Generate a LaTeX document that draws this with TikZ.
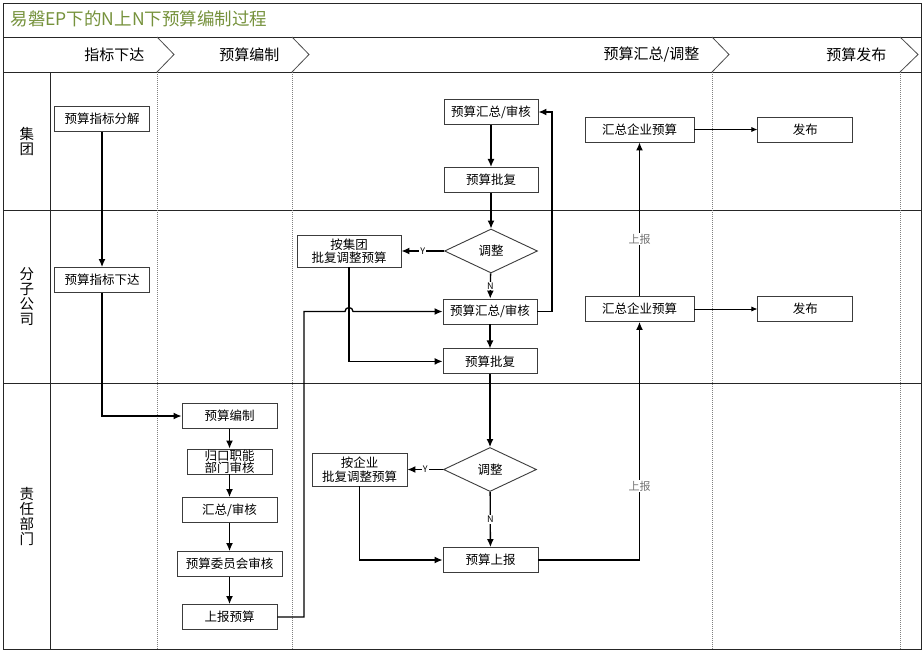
\documentclass[tikz,border=0pt]{standalone}
\usepackage{fontspec}
\setmainfont{Noto Sans CJK SC}
\usetikzlibrary{positioning, shapes.geometric, arrows.meta}

\definecolor{titlegreen}{RGB}{118,146,60}
\definecolor{boxline}{RGB}{60,60,60}

\tikzset{
  box/.style={draw=boxline, line width=0.9pt, minimum width=95pt, minimum height=25pt,
    inner sep=1pt, align=center, font=\fontsize{12.5}{13.5}\selectfont},
  choice/.style={diamond, draw=boxline, line width=0.9pt, minimum width=93pt,
    minimum height=44pt, inner sep=0pt, font=\fontsize{12.5}{13.5}\selectfont},
  flow/.style={->, line width=1.3pt},
  thinflow/.style={-{Latex[length=6pt,width=5pt]}, line width=0.8pt},
  lane/.style={line width=0.8pt, draw=black!85},
  phase/.style={draw=black!50, line width=0.8pt, dash pattern=on 1pt off 1pt},
  tag/.style={fill=white, inner sep=1pt, font=\fontsize{9}{10}\selectfont},
  report/.style={fill=white, inner sep=1pt, text=black!55, font=\fontsize{11}{12}\selectfont},
  lanename/.style={align=center, font=\fontsize{14.5}{15}\selectfont},
  phasename/.style={anchor=east, font=\fontsize{15}{16}\selectfont}
}

\begin{document}
\begin{tikzpicture}[x=1pt, y=-1pt, node distance=20pt, >={Latex[length=8pt,width=7pt]}]
  \useasboundingbox[fill=white] (0,0) rectangle (924,653);

  % frame and lanes
  \draw[lane] (3,3) rectangle (921,649);
  \draw[lane] (3,37) -- (921,37);
  \draw[lane] (3,72) -- (921,72);
  \draw[lane] (3,210) -- (921,210);
  \draw[lane] (3,383) -- (921,383);
  \draw[lane] (50,72) -- (50,649);

  % phases
  \draw[phase] (157,72) -- (157,649);
  \draw[phase] (292,72) -- (292,649);
  \draw[phase] (712,72) -- (712,649);
  \draw[phase] (900,72) -- (900,649);
  \draw[draw=black!70, line width=0.8pt] (157,37) -- (174,54.5) -- (157,72);
  \draw[draw=black!70, line width=0.8pt] (292,37) -- (309,54.5) -- (292,72);
  \draw[draw=black!70, line width=0.8pt] (712,37) -- (729,54.5) -- (712,72);
  \draw[draw=black!70, line width=0.8pt] (900,37) -- (918,54.5) -- (900,72);

  \node[anchor=west, text=titlegreen, font=\fontsize{17.5}{18}\selectfont] (title) at (7,19) {易磐EP下的N上N下预算编制过程};
  \node[phasename] (phase 1) at (148,54.5) {指标下达};
  \node[phasename] (phase 2) at (283,54.5) {预算编制};
  \node[phasename] (phase 3) at (703,54.5) {预算汇总/调整};
  \node[phasename] (phase 4) at (890,54.5) {预算发布};

  \node[lanename] (lane 1) at (27,141) {集\\团};
  \node[lanename] (lane 2) at (27,296.5) {分\\子\\公\\司};
  \node[lanename] (lane 3) at (27,516) {责\\任\\部\\门};

  % 指标下达
  \node[box] (decompose) at (102,119) {预算指标分解};
  \node[box] (issue) at (102,280) {预算指标下达};

  % 预算编制
  \node[box] (draft) at (229.5,416) {预算编制};
  \node[box, minimum width=85pt, inner sep=0pt, font=\fontsize{12.5}{12.5}\selectfont] (dept check) at (229.5,461.5) {归口职能\\部门审核};
  \node[box] (unit sum) at (229.5,510) {汇总/审核};
  \node[box, minimum width=105pt] (committee) at (229.5,564) {预算委员会审核};
  \node[box] (submit) at (229.5,617) {上报预算};

  % 预算汇总/调整
  \node[box, minimum width=94pt] (group sum) at (491,112) {预算汇总/审核};
  \node[box, minimum width=94pt, below=42pt of group sum] (group reply) {预算批复};
  \node[choice] (branch adjust) at (491,251) {调整};
  \node[box, minimum width=104pt, minimum height=32pt] (branch redo) at (349,251) {按集团\\批复调整预算};
  \node[box, minimum width=94pt] (branch sum) at (490,311.5) {预算汇总/审核};
  \node[box, minimum width=94pt, below=24pt of branch sum] (branch reply) {预算批复};
  \node[choice] (dept adjust) at (490,469.5) {调整};
  \node[box, minimum height=33pt] (dept redo) at (359.5,469.5) {按企业\\批复调整预算};
  \node[box] (dept report) at (490.5,560) {预算上报};
  \node[box, minimum width=109pt] (group total) at (639.5,129.5) {汇总企业预算};
  \node[box, minimum width=109pt] (branch total) at (639.5,309) {汇总企业预算};

  % 预算发布
  \node[box, right=63pt of group total] (group publish) {发布};
  \node[box, right=63pt of branch total] (branch publish) {发布};

  \draw[flow] (decompose) -- (issue);
  \draw[flow] (issue) |- (draft);
  \draw[flow] (draft) -- (dept check);
  \draw[flow] (dept check) -- (unit sum);
  \draw[flow] (unit sum) -- (committee);
  \draw[flow] (committee) -- (submit);
  \draw[flow] (submit.east) -- (304,617) -- (304,311.5) -- (345,311.5) arc (180:360:4) -- (branch sum.west);

  \draw[flow] (group sum) -- (group reply);
  \draw[flow] (group reply) -- (branch adjust);
  \draw[flow] (branch adjust) -- node[tag] {Y} (branch redo);
  \draw[flow] (branch adjust) -- node[tag] {N} (branch sum);
  \draw[flow] (branch sum.east) -- (552,311.5) |- (group sum.east);
  \draw[flow] (branch sum) -- (branch reply);
  \draw[flow] (branch redo) |- (branch reply);
  \draw[flow] (branch reply) -- (dept adjust);
  \draw[flow] (dept adjust) -- node[tag] {Y} (dept redo);
  \draw[flow] (dept adjust) -- node[tag] {N} (dept report);
  \draw[flow] (dept redo) |- (dept report);
  \draw[flow] (dept report) -| node[report, pos=0.655] {上报} (branch total);
  \draw[flow] (branch total) -- node[report, pos=0.37] {上报} (group total);

  \draw[thinflow] (group total) -- (group publish);
  \draw[thinflow] (branch total) -- (branch publish);
\end{tikzpicture}
\end{document}
